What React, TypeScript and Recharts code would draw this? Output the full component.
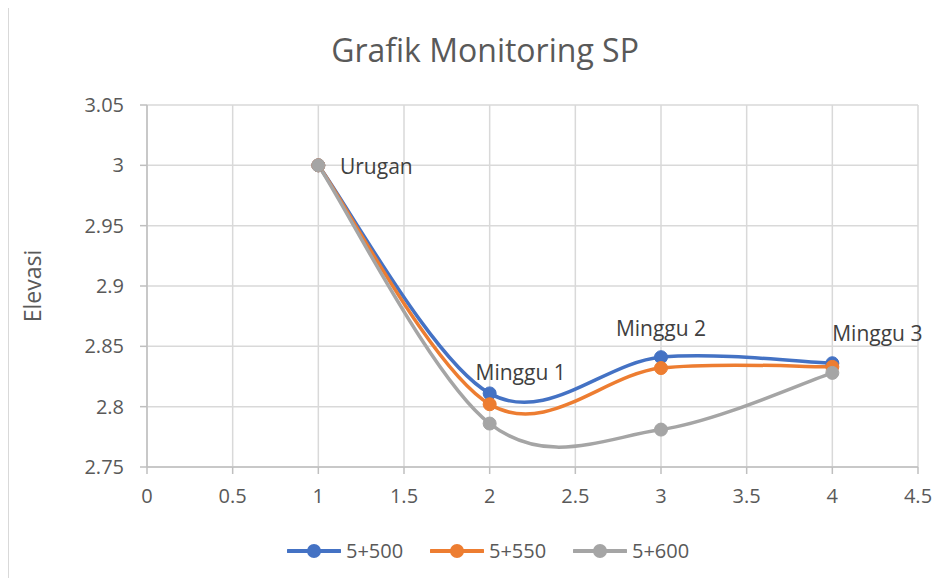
import { LineChart, Line, XAxis, YAxis, CartesianGrid, Legend, LabelList } from "recharts";

// x positions of each measurement
const xs = [1, 2, 3, 4];
const pointLabels = ["Urugan", "Minggu 1", "Minggu 2", "Minggu 3"];

// elevation per station
const s500 = [3.0, 2.811, 2.841, 2.836];
const s550 = [3.0, 2.802, 2.832, 2.833];
const s600 = [3.0, 2.786, 2.781, 2.828];

const xTicks = [0, 0.5, 1, 1.5, 2, 2.5, 3, 3.5, 4, 4.5];
const yTicks = [2.75, 2.8, 2.85, 2.9, 2.95, 3, 3.05];

const seriesList = [
  { key: "s500", name: "5+500", color: "#4472C4" },
  { key: "s550", name: "5+550", color: "#ED7D31" },
  { key: "s600", name: "5+600", color: "#A5A5A5" },
];

// label placement relative to the point (centre of text)
const labelOffsets: Record<string, [number, number]> = {
  Urugan: [58, 1],
  "Minggu 1": [31, -21],
  "Minggu 2": [0, -29],
  "Minggu 3": [45, -30],
};

const data = xs.map((x, i) => ({
  x,
  s500: s500[i],
  s550: s550[i],
  s600: s600[i],
  label: pointLabels[i],
}));

const FONT = "'Open Sans', sans-serif";
const TEXT = "#595959";

/**
 * Excel style smoothed line (Catmull-Rom through every point)
 */
const excelCurve = (context: any) => {
  let pts: number[][] = [];
  return {
    areaStart() {},
    areaEnd() {},
    lineStart() {
      pts = [];
    },
    point(x: number, y: number) {
      pts.push([+x, +y]);
    },
    lineEnd() {
      const n = pts.length;
      if (!n) return;
      context.moveTo(pts[0][0], pts[0][1]);
      for (let i = 0; i < n - 1; i++) {
        const p0 = pts[i - 1] || pts[i];
        const p1 = pts[i];
        const p2 = pts[i + 1];
        const p3 = pts[i + 2] || pts[i + 1];
        context.bezierCurveTo(
          p1[0] + (p2[0] - p0[0]) / 6,
          p1[1] + (p2[1] - p0[1]) / 6,
          p2[0] - (p3[0] - p1[0]) / 6,
          p2[1] - (p3[1] - p1[1]) / 6,
          p2[0],
          p2[1]
        );
      }
    },
  };
};

function PointLabel(props: any) {
  const { x, y, value } = props;
  const off = labelOffsets[value] || [0, -20];
  return (
    <text
      x={x + off[0]}
      y={y + off[1]}
      textAnchor="middle"
      dominantBaseline="central"
      fill="#404040"
      fontSize={21}
      fontFamily={FONT}
    >
      {value}
    </text>
  );
}

function YLabel(props: any) {
  const vb = props.viewBox || { x: 59, y: 97, width: 80, height: 362 };
  const cx = vb.x - 35;
  const cy = vb.y + vb.height / 2;
  return (
    <text
      x={cx}
      y={cy}
      transform={`rotate(-90 ${cx} ${cy})`}
      textAnchor="middle"
      dominantBaseline="central"
      fill={TEXT}
      fontSize={23}
      fontFamily={FONT}
    >
      Elevasi
    </text>
  );
}

function LegendContent() {
  return (
    <div style={{ display: "flex", alignItems: "center", fontFamily: FONT }}>
      {seriesList.map((s) => (
        <div key={s.key} style={{ display: "flex", alignItems: "center", width: 143 }}>
          <svg width={54} height={16}>
            <line x1={1} y1={8} x2={53} y2={8} stroke={s.color} strokeWidth={4} strokeLinecap="round" />
            <circle cx={27} cy={8} r={7} fill={s.color} />
          </svg>
          <span style={{ marginLeft: 5, fontSize: 20, color: TEXT }}>{s.name}</span>
        </div>
      ))}
    </div>
  );
}

export default function App() {
  return (
    <div style={{ position: "relative", width: 933, height: 570 }}>
      <div
        style={{
          position: "absolute",
          top: -3,
          left: -1,
          right: -7,
          bottom: 0,
          borderTop: "2px solid #d9d9d9",
          borderLeft: "2px solid #d9d9d9",
          pointerEvents: "none",
        }}
      />
      <div
        style={{
          position: "absolute",
          top: 22,
          left: 277,
          width: 400,
          lineHeight: "40px",
          textAlign: "center",
          fontFamily: FONT,
          fontSize: 32,
          color: TEXT,
        }}
      >
        Grafik Monitoring SP
      </div>
      <LineChart
        width={933}
        height={570}
        data={data}
        margin={{ top: 97, right: 23, bottom: 21, left: 59 }}
      >
        <CartesianGrid stroke="#d9d9d9" strokeWidth={1.5} />
        <XAxis
          dataKey="x"
          type="number"
          domain={[0, 4.5]}
          ticks={xTicks}
          height={50}
          tickSize={7}
          tickMargin={15}
          stroke="#bfbfbf"
          strokeWidth={1.5}
          tick={{ fill: TEXT, fontSize: 20, fontFamily: FONT }}
        />
        <YAxis
          type="number"
          domain={[2.75, 3.05]}
          ticks={yTicks}
          width={80}
          tickSize={7}
          tickMargin={16}
          stroke="#bfbfbf"
          strokeWidth={1.5}
          tick={{ fill: TEXT, fontSize: 20, fontFamily: FONT }}
          label={<YLabel />}
        />
        <Legend
          verticalAlign="bottom"
          height={40}
          content={<LegendContent />}
          wrapperStyle={{ left: 279, width: 440, bottom: 1 }}
        />
        {seriesList.map((s, i) => (
          <Line
            key={s.key}
            dataKey={s.key}
            name={s.name}
            type={excelCurve as any}
            stroke={s.color}
            strokeWidth={3.5}
            dot={{ r: 6.5, fill: s.color, stroke: s.color, strokeWidth: 1 }}
            activeDot={false}
            isAnimationActive={false}
          >
            {i === 0 && <LabelList dataKey="label" content={<PointLabel />} />}
          </Line>
        ))}
      </LineChart>
    </div>
  );
}
